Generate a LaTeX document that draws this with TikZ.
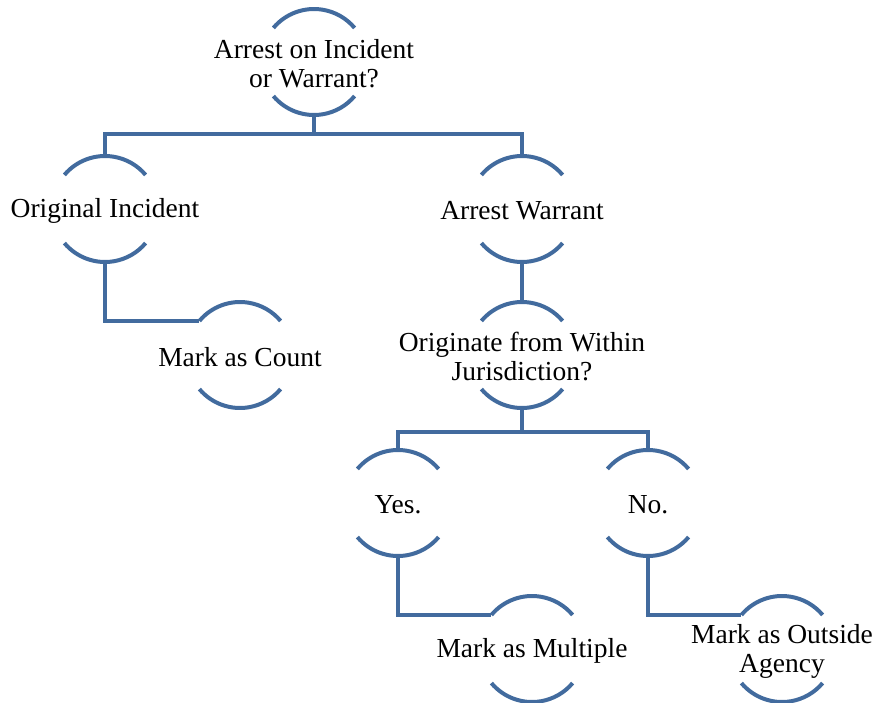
\documentclass[tikz,border=0pt]{standalone}
\usepackage{fontspec}
\setmainfont{Liberation Serif}
\usetikzlibrary{calc}
\definecolor{arcblue}{RGB}{66,107,158}
\tikzset{
  lbl/.style={align=center,inner sep=0pt,yshift=-2pt,font=\fontsize{27.5}{29}\selectfont},
  link/.style={draw=arcblue,line width=4pt,line join=miter},
}
\newcommand{\ringarcs}[1]{%
  \coordinate (#1C) at ($(#1.center)+(0,-2)$);
  \draw[link] ($(#1C)+(-140:53)$) arc[start angle=-140,end angle=-40,radius=53];
  \draw[link] ($(#1C)+(140:53)$) arc[start angle=140,end angle=40,radius=53];
  \coordinate (#1T) at ($(#1C)+(0,-53)$);
  \coordinate (#1B) at ($(#1C)+(0,53)$);
  \coordinate (#1L) at ($(#1C)+(-40.6,-34.1)$);
}
\begin{document}
\begin{tikzpicture}[x=1pt,y=-1pt]
\useasboundingbox (0,0) rectangle (876,702);
\node[lbl] (root) at (314,62) {Arrest on Incident\\or Warrant?};
\node[lbl] (orig) at (105,209) {Original Incident};
\node[lbl] (warr) at (522,209) {Arrest Warrant};
\node[lbl] (count) at (240,355) {Mark as Count};
\node[lbl] (within) at (522,355) {Originate from Within\\Jurisdiction?};
\node[lbl] (yes) at (398,503) {Yes.};
\node[lbl] (no) at (648,503) {No.};
\node[lbl] (mult) at (532,649) {Mark as Multiple};
\node[lbl] (outs) at (782,649) {Mark as Outside\\Agency};
\foreach \n in {root,orig,warr,count,within,yes,no,mult,outs}{\ringarcs{\n}}
\draw[link] (rootB) -- (314,134) coordinate (rootJ);
\draw[link] (origT) |- (rootJ) -| (warrT);
\draw[link] (origB) |- (countL);
\draw[link] (warrB) -- (withinT);
\draw[link] (withinB) -- (522,432) coordinate (withinJ);
\draw[link] (yesT) |- (withinJ) -| (noT);
\draw[link] (yesB) |- (multL);
\draw[link] (noB) |- (outsL);
\end{tikzpicture}
\end{document}
